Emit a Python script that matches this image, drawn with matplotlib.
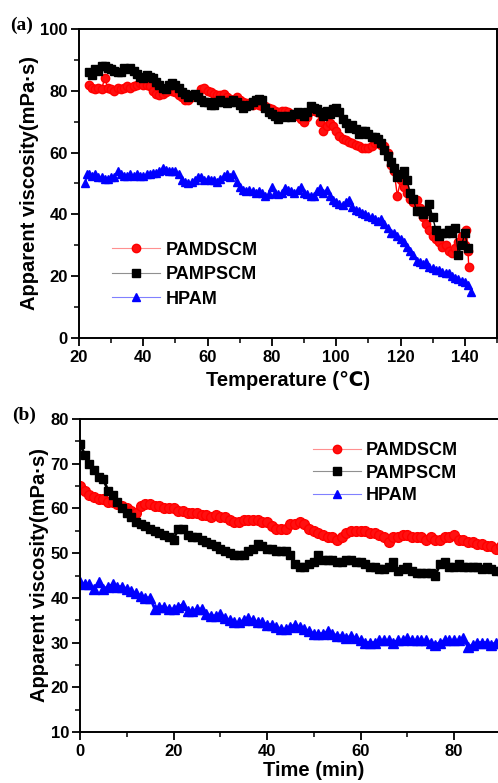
import matplotlib
matplotlib.use("Agg")
import matplotlib.pyplot as plt
from matplotlib.ticker import MultipleLocator
from matplotlib.lines import Line2D

plt.rcParams['font.family'] = ['Liberation Sans', 'DejaVu Sans']
plt.rcParams['font.weight'] = 'bold'

# ---------------- Panel (a): viscosity vs temperature ----------------
temp_pamd = [23, 24, 25, 26, 27, 28, 29, 30, 31, 32, 33, 34, 35, 36, 37, 38, 39, 40, 41, 42,
             43, 44, 45, 46, 47, 48, 49, 50, 51, 52, 53, 54, 55, 56, 57, 58, 59, 60, 61, 62,
             63, 64, 65, 66, 67, 68, 69, 70, 71, 72, 73, 74, 75, 76, 77, 78, 79, 80, 81, 82,
             83, 84, 85, 86, 87, 88, 89, 90, 91, 92, 93, 94, 95, 96, 97, 98, 99, 100, 101, 102,
             103, 104, 105, 106, 107, 108, 109, 110, 111, 112, 113, 114, 115, 116, 117, 118, 119, 120, 121, 122,
             123, 124, 125, 126, 127, 128, 129, 130, 131, 132, 133, 134, 135, 136, 137, 138, 139, 140, 140.5, 141, 141.2]
visc_pamd = [82, 81, 80.5, 81, 80.5, 84, 81, 80.5, 80, 81, 80.5, 81, 81.5, 81, 81.5, 82, 82.5, 82, 82, 81.5,
             80, 79, 78.5, 79, 79.5, 80.5, 80, 79.5, 78.5, 78, 77, 77, 78, 78.5, 79, 80.5, 81, 80, 79.5, 79,
             78.5, 78.5, 79, 78, 77.5, 77, 78, 77, 76.5, 76, 76, 75.5, 76, 75.5, 75, 75, 74.5, 74, 73.5, 73,
             73.5, 73.5, 73, 72.5, 72, 72, 71, 70, 71.5, 73.5, 74, 73, 70, 67, 68.5, 69.5, 68.5, 67, 65.5, 64.5,
             64, 63.5, 63, 62.5, 62, 61.5, 61.5, 61.5, 62, 63, 63, 62.5, 62, 60, 56, 54, 46, 51, 49, 47,
             45, 44, 44.5, 42, 39, 37, 35, 33, 32, 31, 29.5, 30, 28, 27.5, 29, 31, 33, 30, 35, 28, 23]

temp_pamp = [23, 24, 25, 26, 27, 28, 29, 30, 31, 32, 33, 34, 35, 36, 37, 38, 39, 40, 41, 42,
             43, 44, 45, 46, 47, 48, 49, 50, 51, 52, 53, 54, 55, 56, 57, 58, 59, 60, 61, 62,
             63, 64, 65, 66, 67, 68, 69, 70, 71, 72, 73, 74, 75, 76, 77, 78, 79, 80, 81, 82,
             83, 84, 85, 86, 87, 88, 89, 90, 91, 92, 93, 94, 95, 96, 97, 98, 99, 100, 101, 102,
             103, 104, 105, 106, 107, 108, 109, 110, 111, 112, 113, 114, 115, 116, 117, 118, 119, 120, 121, 122,
             123, 124, 125, 126, 127, 128, 129, 130, 131, 132, 133, 134, 135, 136, 137, 138, 139, 140, 141]
visc_pamp = [86, 85, 87, 86.5, 88, 88, 87.5, 87, 86.5, 86, 86, 87.5, 87, 87.5, 86.5, 85.5, 84.5, 84, 85, 84.5,
             84, 83, 82, 81, 80.5, 82, 82.5, 82, 81, 79.5, 79, 78, 78.5, 79, 78, 77, 76.5, 76.5, 75.5, 75.5,
             76.5, 77, 76.5, 76, 76.5, 77, 76.5, 75.5, 74.5, 75, 75.5, 76.5, 77, 77.5, 77, 74.5, 73, 72.5, 72, 71,
             72, 71.5, 72, 71.5, 72.5, 73, 72.5, 72, 73, 75, 74.5, 74, 73, 72, 73.5, 72.5, 74, 74.5, 73, 71,
             69.5, 68, 69, 67.5, 66, 67, 67, 66, 65, 65, 64.5, 63, 61, 59, 57, 55, 52, 53, 54, 51,
             47, 45, 41, 41, 40, 41, 43.5, 39, 35, 33, 34, 34, 35, 34, 35.5, 27, 30, 34, 29]

temp_hpam = [22, 22.5, 23, 24, 25, 26, 27, 28, 29, 30, 31, 32, 33, 34, 35, 36, 37, 38, 39, 40, 41,
             42, 43, 44, 45, 46, 47, 48, 49, 50, 51, 52, 53, 54, 55, 56, 57, 58, 59, 60, 61,
             62, 63, 64, 65, 66, 67, 68, 69, 70, 71, 72, 73, 74, 75, 76, 77, 78, 79, 80, 81,
             82, 83, 84, 85, 86, 87, 88, 89, 90, 91, 92, 93, 94, 95, 96, 97, 98, 99, 100, 101,
             102, 103, 104, 105, 106, 107, 108, 109, 110, 111, 112, 113, 114, 115, 116, 117, 118, 119, 120, 121,
             122, 123, 124, 125, 126, 127, 128, 129, 130, 131, 132, 133, 134, 135, 136, 137, 138, 139, 140, 141, 142]
visc_hpam = [50, 53, 53, 52.5, 53, 52, 52, 51.5, 51.5, 52, 52, 54, 53, 52.5, 52.5, 53, 52.5, 53, 52.5, 52.5, 53,
             53, 53.5, 53.5, 54, 55, 54.5, 54, 54, 54, 53, 51, 50.5, 50, 50.5, 51, 52, 52, 51, 51.5, 51,
             51, 50.5, 51.5, 52.5, 53, 52, 53, 50.5, 49, 48, 47.5, 48, 47.5, 47, 47.5, 47, 46, 46.5, 49, 47,
             46.5, 47, 48.5, 48, 47.5, 47, 48, 49, 47, 46.5, 46, 46, 47.5, 48.5, 47, 48, 46, 44.5, 44, 43.5,
             43, 44, 44.5, 42.5, 41.5, 41, 40.5, 40, 39.5, 39, 38.5, 38, 38.5, 37, 35.5, 34, 34, 33, 32, 31,
             29.5, 28, 27, 25, 24.5, 24, 24.5, 23, 22.5, 22, 22, 21.5, 21, 21, 20, 19.5, 19, 18.5, 18, 17, 15]

# ---------------- Panel (b): viscosity vs time ----------------
time_min = [0, 1, 2, 3, 4, 5, 6, 7, 8, 9, 10, 11, 12, 13, 14, 15, 16, 17, 18, 19,
            20, 21, 22, 23, 24, 25, 26, 27, 28, 29, 30, 31, 32, 33, 34, 35, 36, 37, 38, 39,
            40, 41, 42, 43, 44, 45, 46, 47, 48, 49, 50, 51, 52, 53, 54, 55, 56, 57, 58, 59,
            60, 61, 62, 63, 64, 65, 66, 67, 68, 69, 70, 71, 72, 73, 74, 75, 76, 77, 78, 79,
            80, 81, 82, 83, 84, 85, 86, 87, 88, 89, 90]
visc_t_pamd = [65, 64, 63, 62.5, 62, 62, 61.5, 61.5, 61, 60.5, 60, 59.5, 59, 60.5, 61, 61, 60.5, 60.5, 60, 60,
               60, 59.5, 59.5, 59, 59, 59, 58.5, 58.5, 58, 58.5, 58, 58, 57.5, 57, 57, 57.5, 57.5, 57.5, 57.5, 57,
               57, 56, 55.5, 55.5, 55.5, 56.5, 56.5, 57, 56.5, 55.5, 55, 54.5, 54, 53.5, 53.5, 53, 53.5, 54.5, 55, 55,
               55, 55, 54.5, 54.5, 54, 53.5, 52.5, 53.5, 53.5, 54, 54, 53.5, 53.5, 53.5, 53, 53.5, 53, 53, 53.5, 53.5,
               54, 53, 53, 52.5, 52.5, 52, 52, 51.5, 51.5, 51, 51.5]
visc_t_pamp = [74.5, 72, 70, 68.5, 67, 66.5, 64, 63, 61.5, 60, 59, 58, 57, 56.5, 56, 55.5, 55, 54.5, 54, 53.5,
               53, 55.5, 55.5, 54, 53.5, 53.5, 53, 52.5, 52, 51.5, 51, 50.5, 50, 49.5, 49.5, 49.5, 50.5, 51, 52, 51.5,
               51, 51, 50.5, 50.5, 50.5, 49.5, 47.5, 47, 47, 47.5, 48, 49.5, 48.5, 48.5, 48.5, 48, 48, 48.5, 48.5, 48,
               48, 47.5, 47, 47, 46.5, 46.5, 47, 48, 46, 46.5, 47, 46, 45.5, 45.5, 45.5, 45.5, 45, 47.5, 48, 47,
               47, 47.5, 47, 47, 47, 47, 46.5, 47, 46.5, 46, 46]
visc_t_hpam = [43.5, 43, 43, 42, 43.5, 42, 42.5, 43, 42.5, 42.5, 42, 41.5, 41, 40.5, 40, 40, 37.5, 38, 38, 37.5,
               37.5, 38, 38.5, 37, 37, 37.5, 37.5, 36.5, 36, 36, 36.5, 35.5, 35, 34.5, 34.5, 35, 35.5, 35, 34.5, 34.5,
               34, 34, 33.5, 33, 33, 33.5, 34, 33.5, 33, 32.5, 32, 32, 32, 32.5, 32, 31.5, 31.5, 31, 31.5, 31,
               30.5, 30, 30, 30, 30.5, 30.5, 30.5, 30, 30.5, 30.5, 31, 30.5, 30.5, 30.5, 30.5, 30, 29.5, 30, 30.5, 30.5,
               30.5, 30.5, 31, 29, 29.5, 30, 30, 30, 29.5, 30, 30]

labels = ['PAMDSCM', 'PAMPSCM', 'HPAM']

W, H = 498, 783
fig = plt.figure(figsize=(W / 100, H / 100), dpi=100)

ax1 = fig.add_axes([79 / W, 1 - 338 / H, 418 / W, 309 / H])
ax2 = fig.add_axes([80 / W, 1 - 732 / H, 467.5 / W, 313 / H])

styles_a = [
    dict(color='#ff0000', marker='o', ms=6.0, mfc='#ff1010', mec='#ff0000', lw=1.0, ls='-'),
    dict(color='#000000', marker='s', ms=5.4, mfc='#000000', mec='#000000', lw=1.0, ls='-'),
    dict(color='#0000ff', marker='^', ms=6.2, mfc='#0000ff', mec='#0000ff', lw=1.0, ls='-'),
]
styles_b = [
    dict(color='#ff0000', marker='o', ms=7.0, mfc='#ff1010', mec='#ff0000', lw=2.0, ls='-'),
    dict(color='#000000', marker='s', ms=6.4, mfc='#000000', mec='#000000', lw=2.0, ls='-'),
    dict(color='#0000ff', marker='^', ms=7.0, mfc='#0000ff', mec='#0000ff', lw=2.0, ls='-'),
]
leg_line_colors = ['#ff9090', '#909090', '#8080ff']


def draw(ax, xs, ys, styles):
    for x, y, st, lab in zip(xs, ys, styles, labels):
        ax.plot(x, y, label=lab, **st)


draw(ax1, [temp_pamd, temp_pamp, temp_hpam], [visc_pamd, visc_pamp, visc_hpam], styles_a)
draw(ax2, [time_min] * 3, [visc_t_pamd, visc_t_pamp, visc_t_hpam], styles_b)


def leg_handles():
    out = []
    for st, lc in zip(styles_a, leg_line_colors):
        s = dict(st)
        s['color'] = lc
        s['lw'] = 0.8
        s['ms'] = 6.0
        out.append(Line2D([], [], **s))
    return out


ax1.set_xlim(20, 150)
ax1.set_ylim(0, 100)
ax1.set_xticks([20, 40, 60, 80, 100, 120, 140])
ax1.xaxis.set_minor_locator(MultipleLocator(10))
ax1.yaxis.set_major_locator(MultipleLocator(20))
ax1.yaxis.set_minor_locator(MultipleLocator(10))
ax1.set_xlabel('Temperature (℃)', fontsize=14.5, fontweight='bold', labelpad=4)

ax2.set_xlim(0, 100)
ax2.set_ylim(10, 80)
ax2.set_xticks([0, 20, 40, 60, 80])
ax2.xaxis.set_minor_locator(MultipleLocator(10))
ax2.yaxis.set_major_locator(MultipleLocator(10))
ax2.yaxis.set_minor_locator(MultipleLocator(5))
ax2.set_xlabel('Time (min)', fontsize=14.5, fontweight='bold', labelpad=1)

for ax in (ax1, ax2):
    for sp in ax.spines.values():
        sp.set_linewidth(1.4)
    ax.tick_params(which='major', direction='out', length=6, width=1.3, labelsize=12,
                   top=False, right=False, pad=2)
    ax.tick_params(axis='x', which='major', pad=3)
    ax.tick_params(which='minor', direction='out', length=3.5, width=1.1, top=False, right=False)
    for lab in ax.get_xticklabels() + ax.get_yticklabels():
        lab.set_fontweight('bold')
    ax.set_ylabel('Apparent viscosity(mPa·s)', fontsize=14.5, fontweight='bold', labelpad=1)

leg_kw = dict(frameon=False, loc='upper left', borderpad=0, borderaxespad=0, handlelength=2.65,
              handletextpad=0.3, labelspacing=0.42, prop=dict(size=13, weight='bold'))
ax1.legend(leg_handles(), labels, bbox_to_anchor=(0.079, 0.312), **leg_kw)
leg_kw_b = dict(leg_kw, labelspacing=0.3)
ax2.legend(leg_handles(), labels, bbox_to_anchor=(0.498, 0.926), **leg_kw_b)

fig.text(10 / W, 1 - 25 / H, '(a)', family='Liberation Serif', fontweight='bold', fontsize=14,
         va='center', ha='left')
fig.text(12 / W, 1 - 415 / H, '(b)', family='Liberation Serif', fontweight='bold', fontsize=14,
         va='center', ha='left')

fig.savefig('out.png', dpi=100)
